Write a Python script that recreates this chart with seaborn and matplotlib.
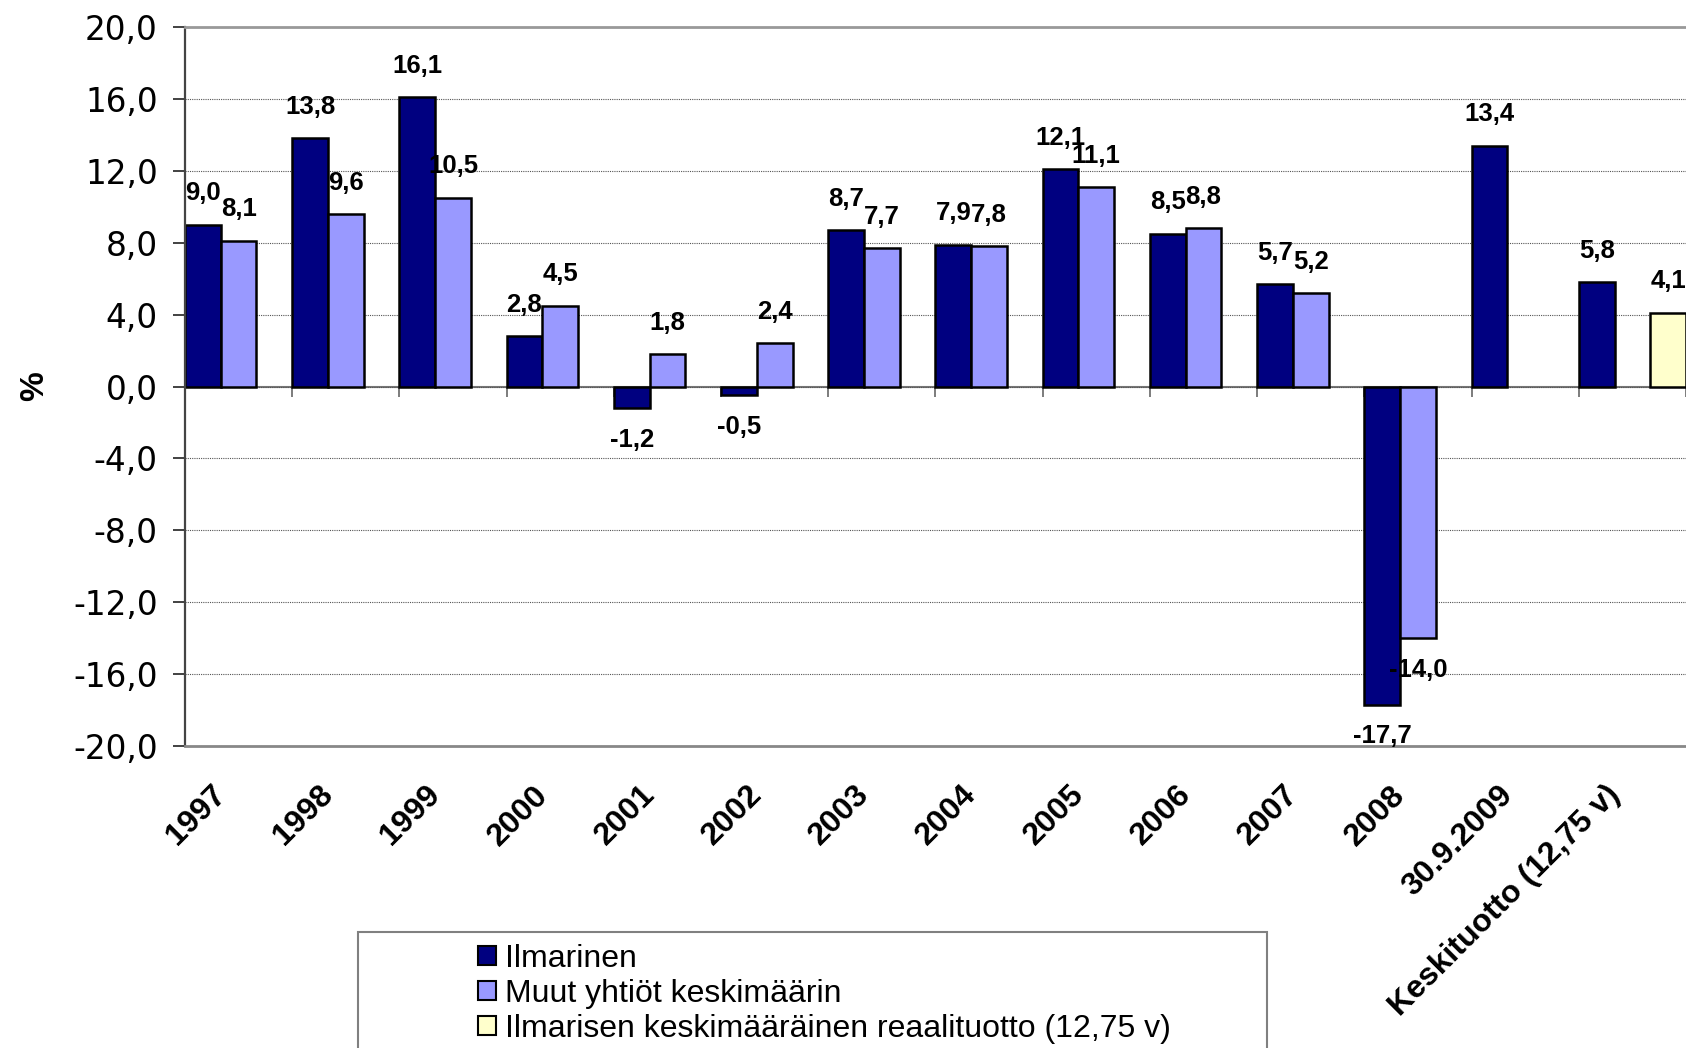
import numpy as np
import pandas as pd
import matplotlib
matplotlib.use('Agg')
import matplotlib.pyplot as plt
import matplotlib.transforms as mtransforms
import seaborn as sns
from matplotlib.patches import Patch, Rectangle
from matplotlib.ticker import FuncFormatter

# chart data
categories = ['1997', '1998', '1999', '2000', '2001', '2002', '2003', '2004',
              '2005', '2006', '2007', '2008', '30.9.2009', 'Keskituotto (12,75 v)']
ilmarinen = [9.0, 13.8, 16.1, 2.8, -1.2, -0.5, 8.7, 7.9, 12.1, 8.5, 5.7, -17.7, 13.4, 5.8]
muut = [8.1, 9.6, 10.5, 4.5, 1.8, 2.4, 7.7, 7.8, 11.1, 8.8, 5.2, -14.0, np.nan, np.nan]
reaali = [np.nan] * 13 + [4.1]
series_names = ['Ilmarinen', 'Muut yhtiöt keskimäärin',
                'Ilmarisen keskimääräinen reaalituotto (12,75 v)']
colors = ['#000080', '#9999FF', '#FFFFCC']
yticks = [-20, -16, -12, -8, -4, 0, 4, 8, 12, 16, 20]

#Build long-form table for seaborn
rows = []
for name, vals in zip(series_names, [ilmarinen, muut, reaali]):
    for cat, v in zip(categories, vals):
        rows.append({'Kategoria': cat, 'Sarja': name, 'Arvo': v})
df = pd.DataFrame(rows).dropna()

sns.set_style('white')
plt.rcParams['font.family'] = ['Liberation Sans', 'DejaVu Sans']
plt.rcParams['text.color'] = 'black'
plt.rcParams['axes.labelcolor'] = 'black'
plt.rcParams['xtick.color'] = 'black'
plt.rcParams['ytick.color'] = 'black'

fig = plt.figure(figsize=(16.86, 10.48), dpi=100)
ax = fig.add_axes([0.1097, 0.2882, 0.8903, 0.686])

sns.barplot(data=df, x='Kategoria', y='Arvo', hue='Sarja', order=categories,
            hue_order=series_names, palette=colors, saturation=1, width=1.0,
            gap=0, errorbar=None, edgecolor='black', linewidth=1.8,
            legend=False, ax=ax)

#Value labels with decimal comma
for cont in ax.containers:
    ax.bar_label(cont, fmt=lambda v: f'{v:.1f}'.replace('.', ','), padding=14,
                 fontsize=18.5, fontweight='bold', color='black')

ax.set_xlim(-0.5, 13.5)
ax.set_ylim(-20, 20)
ax.set_yticks(yticks)
ax.yaxis.set_major_formatter(FuncFormatter(lambda v, p: f'{v:.1f}'.replace('.', ',')))
ax.tick_params(axis='y', direction='out', length=8.6, width=1.3, color='#333333',
               labelsize=23.5, labelcolor='black', pad=11, left=True)
for lbl in ax.get_yticklabels():
    lbl.set_fontfamily('DejaVu Sans')
ax.yaxis.grid(True, linestyle=(0, (1, 1)), color='#555555', linewidth=0.8)
ax.set_axisbelow(True)

ax.set_xticks(range(len(categories)))
ax.set_xticklabels(categories, rotation=45, ha='right', va='center',
                   rotation_mode='anchor', fontweight='bold', fontsize=23,
                   color='black')
ax.tick_params(axis='x', length=0, pad=32)
ax.set_xlabel('')
#shift the slanted labels a little to the left, like the original
shift = mtransforms.ScaledTranslation(-0.17, 0, fig.dpi_scale_trans)
for lbl in ax.get_xticklabels():
    lbl.set_transform(lbl.get_transform() + shift)

ax.set_ylabel('%', fontsize=24, fontweight='bold', rotation=90, color='black')
ax.yaxis.set_label_coords(-0.09, 0.5)

ax.spines['right'].set_visible(False)
ax.spines['top'].set_color('#999999')
ax.spines['top'].set_linewidth(2)
ax.spines['bottom'].set_color('#888888')
ax.spines['bottom'].set_linewidth(2)
ax.spines['left'].set_color('#444444')
ax.spines['left'].set_linewidth(1.6)

#Category axis at zero with tick marks between groups
sec = ax.secondary_xaxis(0.4999)
sec.set_xticks(np.arange(-0.5, len(categories), 1.0))
sec.set_xticklabels([])
sec.tick_params(axis='x', direction='out', length=7, width=1.2, color='#666666')
sec.spines['bottom'].set_color('#777777')
sec.spines['bottom'].set_linewidth(1.5)

#Legend in a wide box at the bottom
handles = [Patch(facecolor=c, edgecolor='black', linewidth=1.5) for c in colors]
fig.legend(handles, series_names, loc='upper left',
           bbox_to_anchor=(478 / 1686, 1 - 944 / 1048), frameon=False,
           borderpad=0, borderaxespad=0, handlelength=0.56, handleheight=0.56,
           handletextpad=0.3, labelspacing=0.15, fontsize=23)
fig.add_artist(Rectangle((358 / 1686, -0.05), (1267 - 358) / 1686,
                         (1048 - 932) / 1048 + 0.05, transform=fig.transFigure,
                         fill=False, edgecolor='#808080', linewidth=1.5))

fig.savefig('out.png', dpi=100)
